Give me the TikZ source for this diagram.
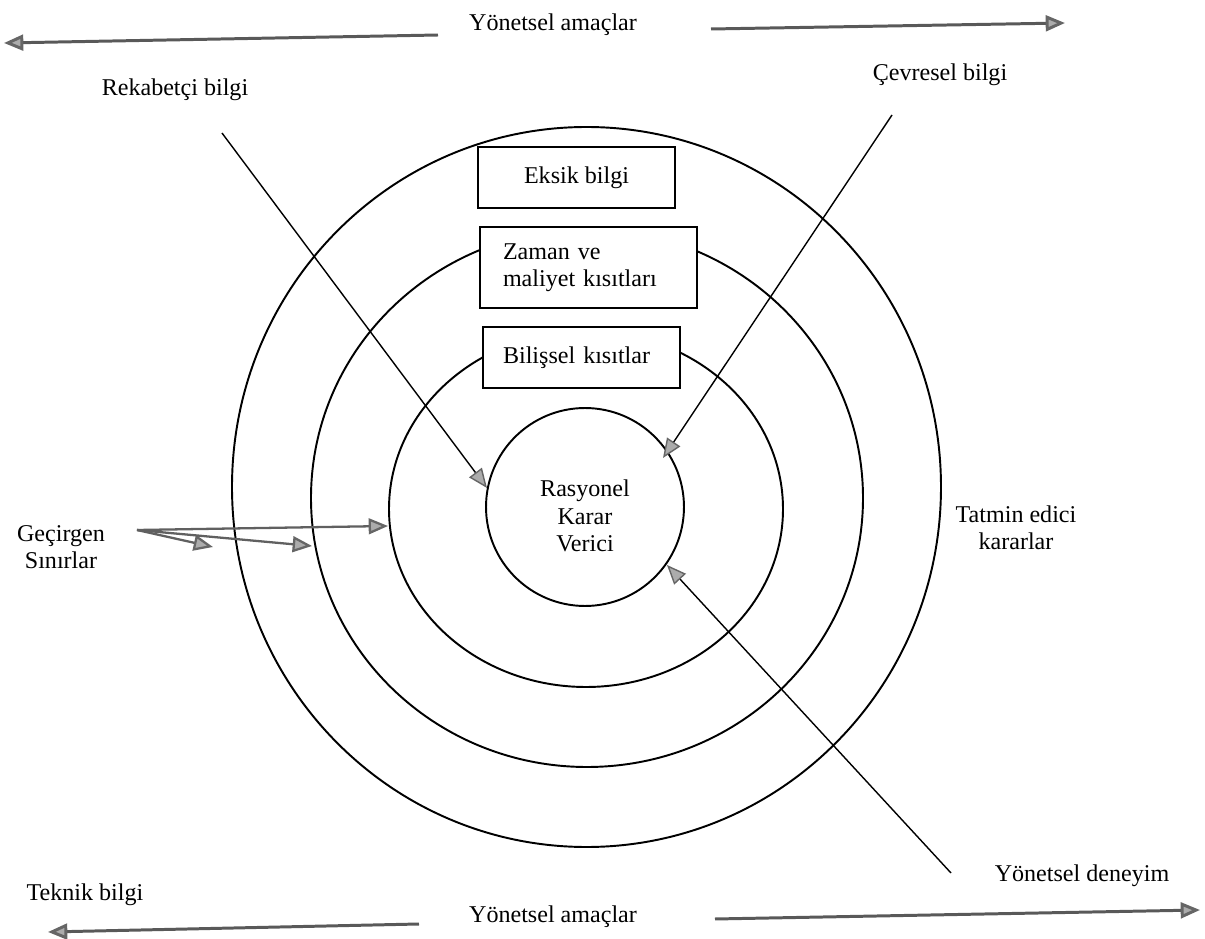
\documentclass[tikz,border=0pt]{standalone}
\usepackage{fontspec}
\setmainfont{Liberation Serif}
\usetikzlibrary{arrows.meta}
\begin{document}
\begin{tikzpicture}[x=0.02cm, y=-0.02cm,
  txt/.style={font=\fontsize{13.7}{15.5}\selectfont, inner sep=0pt, align=center},
  ring/.style={line width=1.1pt, black},
  limitbox/.style={draw, line width=1.1pt, fill=white, txt, minimum width=3.94cm, minimum height=1.22cm},
  greytip/.style={-{Triangle[length=11pt, width=9pt, fill=gray!65, color=gray!80!black]}},
  infoline/.style={line width=0.8pt, black, greytip},
  boundline/.style={line width=1.3pt, gray!75!black, greytip},
  goalline/.style={line width=1.7pt, gray!70!black, greytip},
]
\useasboundingbox (0,0) rectangle (1205,939);

% nested boundaries
\draw[ring] (586.5,487) ellipse [x radius=354.5, y radius=360];
\draw[ring] (587,498) ellipse [x radius=276, y radius=269];
\draw[ring] (586,509) ellipse [x radius=197, y radius=178];
\node[circle, draw, line width=1.1pt, minimum size=3.96cm, inner sep=0pt] (rkv) at (585,507) {};
\node[txt] (rkvtext) at (585,516) {Rasyonel\\Karar\\Verici};

% constraint boxes
\node[limitbox] (eksik) at (576.5,177.5) {Eksik bilgi};
\node[limitbox, minimum width=4.34cm, minimum height=1.62cm, text width=3.42cm, inner xsep=0.46cm, align=left] (zaman) at (588.5,267.5) {Zaman ve\\maliyet kısıtları};
\node[limitbox, text width=3.14cm, inner xsep=0.4cm, align=left] (bilis) at (581.5,357.5) {Bilişsel kısıtlar};

% labels
\node[txt] (goalTop) at (553,25) {Yönetsel amaçlar};
\node[txt] (goalBot) at (553,917) {Yönetsel amaçlar};
\node[txt] (rek) at (175,90) {Rekabetçi bilgi};
\node[txt] (cev) at (940,75) {Çevresel bilgi};
\node[txt] (tatmin) at (1016,528) {Tatmin edici\\kararlar};
\node[txt] (gec) at (61,547) {Geçirgen\\Sınırlar};
\node[txt] (den) at (1082,876) {Yönetsel deneyim};
\node[txt] (tek) at (85,895) {Teknik bilgi};

% end points of the connectors
\coordinate (gtL1) at (438,35);  \coordinate (gtL2) at (4,43);
\coordinate (gtR1) at (711,29);  \coordinate (gtR2) at (1065,23);
\coordinate (gbL1) at (419,924); \coordinate (gbL2) at (48,932);
\coordinate (gbR1) at (715,919); \coordinate (gbR2) at (1200,910);
\coordinate (rekStart) at (222,133);  \coordinate (rekTip) at (487,488);
\coordinate (cevStart) at (892,115);  \coordinate (cevTip) at (663,458);
\coordinate (denStart) at (951,873);  \coordinate (denTip) at (667,565);
\coordinate (gecStart) at (137,530);
\coordinate (gecTip1) at (213,547);
\coordinate (gecTip2) at (312,546);
\coordinate (gecTip3) at (388,526);

% managerial goals
\draw[goalline] (gtL1) -- (gtL2);
\draw[goalline] (gtR1) -- (gtR2);
\draw[goalline] (gbL1) -- (gbL2);
\draw[goalline] (gbR1) -- (gbR2);

% information flows towards the decision maker
\draw[infoline] (rekStart) -- (rekTip);
\draw[infoline] (cevStart) -- (cevTip);
\draw[infoline] (denStart) -- (denTip);

% permeable boundaries
\draw[boundline] (gecStart) -- (gecTip1);
\draw[boundline] (gecStart) -- (gecTip2);
\draw[boundline] (gecStart) -- (gecTip3);
\end{tikzpicture}
\end{document}
